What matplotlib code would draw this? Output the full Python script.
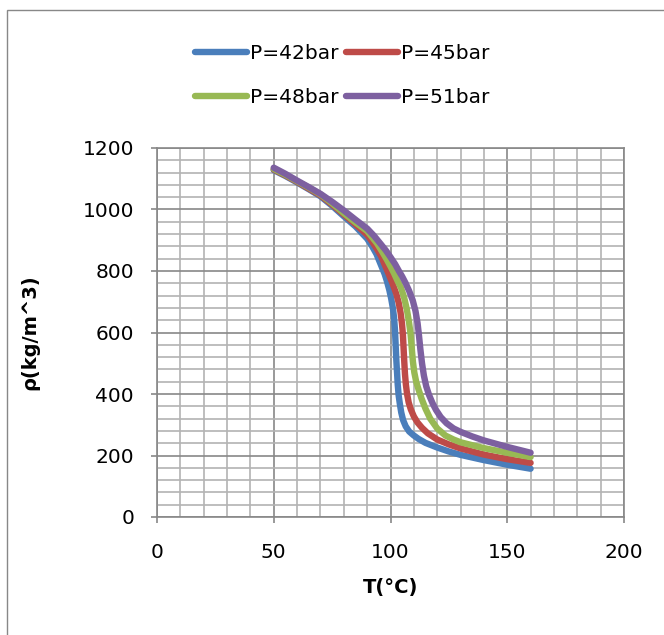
import numpy as np
import matplotlib
matplotlib.use('Agg')
import matplotlib.pyplot as plt
from matplotlib.ticker import MultipleLocator
from matplotlib.patches import Rectangle

# 読み取った値 (T in °C, rho in kg/m^3)
T_42 = [50, 55, 60, 65, 70, 75, 80, 85, 90, 92, 94, 96, 97.5, 98.5, 99.5, 100.3, 101, 101.5, 101.9, 102.2, 102.5,
        102.8, 103.1, 103.5, 104, 104.6, 105.4, 106.5, 108, 110, 112, 115, 120, 125, 130, 140, 150, 160]
rho_42 = [1128, 1109, 1088, 1066, 1043, 1012, 978, 945, 905, 882, 855, 818, 790, 766, 738, 710, 680, 650, 610, 560, 510,
          470, 430, 395, 368, 340, 315, 295, 278, 265, 254, 241, 226, 213, 202, 185, 170, 157]

T_45 = [50, 55, 60, 65, 70, 75, 80, 85, 90, 92, 94, 96, 98, 99.5, 101, 102.5, 103.5, 104.3, 104.9, 105.3, 105.6,
        105.9, 106.2, 106.6, 107.1, 107.8, 108.7, 110, 111.5, 113.5, 116, 120, 125, 130, 140, 150, 160]
rho_45 = [1130, 1111, 1090, 1068, 1046, 1016, 984, 952, 918, 897, 874, 848, 812, 785, 757, 725, 697, 665, 630, 595, 550,
          505, 465, 430, 400, 372, 350, 327, 308, 290, 272, 252, 236, 223, 203, 188, 176]

T_48 = [50, 55, 60, 65, 70, 75, 80, 85, 90, 92, 94.3, 96.5, 98.5, 100, 101.5, 103, 104.5, 105.8, 107, 107.9, 108.6,
        109.1, 109.6, 110.2, 111, 112, 113.3, 115, 117, 120, 123.5, 127, 130, 140, 150, 160]
rho_48 = [1132, 1113, 1092, 1071, 1049, 1020, 988, 958, 930, 911, 889, 862, 836, 815, 793, 768, 745, 715, 675, 635, 595,
          550, 505, 470, 440, 415, 385, 352, 320, 288, 265, 252, 243, 224, 209, 195]

T_51 = [50, 55, 60, 65, 70, 75, 80, 85, 90, 93, 96, 98, 100, 102, 103.6, 105, 106.5, 108, 109.5, 110.7, 111.6, 112.2,
        112.8, 113.5, 114.3, 115.3, 116.5, 118, 119.5, 121.5, 124, 127, 130, 135, 140, 150, 160]
rho_51 = [1136, 1116, 1094, 1073, 1051, 1025, 997, 967, 938, 914, 886, 867, 845, 822, 800, 782, 760, 735, 705, 670, 630, 590,
          545, 500, 460, 425, 397, 370, 348, 325, 305, 288, 277, 262, 249, 228, 209]

labels = ['P=42bar', 'P=45bar', 'P=48bar', 'P=51bar']
colors = ['#4A7EBB', '#BE4B48', '#98B954', '#7D60A0']

W, H = 664, 635
fig = plt.figure(figsize=(W / 100, H / 100), dpi=100)
ax = fig.add_axes([157 / W, 1 - 517 / H, (624 - 157) / W, (517 - 148) / H])

lines = []
for t, r, c, lab in zip([T_42, T_45, T_48, T_51], [rho_42, rho_45, rho_48, rho_51], colors, labels):
    ln, = ax.plot(t, r, color=c, lw=4.6, label=lab, solid_capstyle='round', solid_joinstyle='round', zorder=3)
    lines.append(ln)

ax.set_xlim(0, 200)
ax.set_ylim(0, 1200)
ax.xaxis.set_major_locator(MultipleLocator(50))
ax.xaxis.set_minor_locator(MultipleLocator(10))
ax.yaxis.set_major_locator(MultipleLocator(200))
ax.yaxis.set_minor_locator(MultipleLocator(40))

ax.grid(True, which='minor', color='#b3b3b3', lw=1.2, zorder=0)
ax.grid(True, which='major', color='#888888', lw=1.2, zorder=1)
ax.set_axisbelow(True)
for s in ax.spines.values():
    s.set_color('#888888')
    s.set_linewidth(1.2)

ax.tick_params(which='major', direction='out', length=4.5, width=1.2, color='#888888',
               labelsize=14.5, pad=12)
ax.tick_params(axis='x', which='major', pad=14)
ax.tick_params(which='minor', length=0)

ax.set_xlabel('T(°C)', fontsize=14, fontweight='bold')
ax.set_ylabel('ρ(kg/m^3)', fontsize=14, fontweight='bold')
ax.xaxis.set_label_coords(0.5, -0.165)
ax.yaxis.set_label_coords(-0.252, 0.5)

# 凡例 (2列, 行方向の並び)
order = [0, 2, 1, 3]
fig.legend([lines[i] for i in order], [labels[i] for i in order],
           ncol=2, loc='upper left', bbox_to_anchor=(185 / W, 1 - 34 / H),
           frameon=False, fontsize=14.5, borderpad=0, handlelength=2.6,
           handletextpad=0.15, columnspacing=0.35, labelspacing=1.25)

# チャート外枠
fig.patches.append(Rectangle((7 / W, -0.1), 1.2, 1.1 - 9.5 / H, transform=fig.transFigure,
                             fill=False, edgecolor='#888888', lw=1.0))

fig.savefig('out.png', dpi=100)
